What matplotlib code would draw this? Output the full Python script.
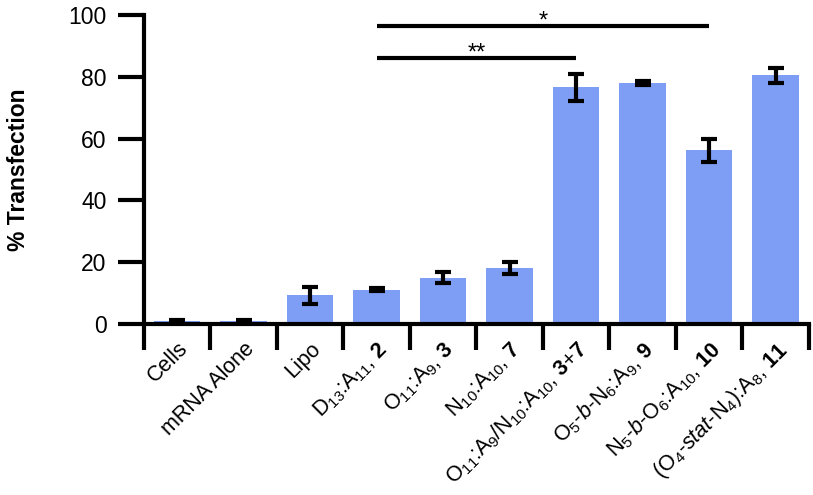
import matplotlib
matplotlib.use("Agg")
import matplotlib.pyplot as plt
import numpy as np

plt.rcParams['font.family'] = ['Liberation Sans', 'DejaVu Sans']
plt.rcParams['mathtext.fontset'] = 'custom'
plt.rcParams['mathtext.rm'] = 'Liberation Sans'
plt.rcParams['mathtext.it'] = 'Liberation Sans:italic'
plt.rcParams['mathtext.bf'] = 'Liberation Sans:bold'

# data
labels = [
    'Cells',
    'mRNA Alone',
    'Lipo',
    r'D$_{13}$:A$_{11}$, $\mathbf{2}$',
    r'O$_{11}$:A$_{9}$, $\mathbf{3}$',
    r'N$_{10}$:A$_{10}$, $\mathbf{7}$',
    r'O$_{11}$:A$_{9}$/N$_{10}$:A$_{10}$, $\mathbf{3}$+$\mathbf{7}$',
    r'O$_{5}$-$\mathit{b}$-N$_{6}$:A$_{9}$, $\mathbf{9}$',
    r'N$_{5}$-$\mathit{b}$-O$_{6}$:A$_{10}$, $\mathbf{10}$',
    r'(O$_{4}$-$\mathit{stat}$-N$_{4}$):A$_{8}$, $\mathbf{11}$',
]
values = [1.0, 1.0, 9.3, 11.2, 15.0, 18.2, 76.6, 78.0, 56.2, 80.4]
errors = [0.3, 0.3, 2.7, 0.6, 1.8, 2.0, 4.3, 0.7, 3.7, 2.3]

# significance brackets: (from, to, height, label)
sig_pairs = [(3, 8, 96.3, '*'), (3, 6, 86.0, '**')]

bar_color = '#7E9EF6'

fig = plt.figure(figsize=(8.13, 4.95), dpi=100)
ax = fig.add_axes([0.177, 0.345, 0.818, 0.625])

x = np.arange(len(values))
ax.bar(x, values, width=0.7, color=bar_color, zorder=1)
ax.errorbar(x, values, yerr=errors, fmt='none', ecolor='black',
            elinewidth=3, capsize=6, capthick=3, zorder=2)

for a, b, h, txt in sig_pairs:
    ax.plot([x[a], x[b]], [h, h], color='black', lw=3,
            solid_capstyle='butt', clip_on=False)
    ax.text((x[a] + x[b]) / 2, h - 2.0, txt, ha='center', va='bottom',
            fontsize=17, clip_on=False)

ax.set_xlim(-0.5, len(values) - 0.5)
ax.set_ylim(0, 100)
ax.set_yticks([0, 20, 40, 60, 80, 100])
ax.tick_params(axis='y', labelsize=16.5, length=19, width=3, direction='out',
               pad=8)

ax.set_xticks(x)
ax.set_xticklabels(labels, rotation=45, ha='right', rotation_mode='anchor',
                   fontsize=15.5)
ax.tick_params(axis='x', which='major', length=0, pad=10)
ax.set_xticks(np.arange(len(values) + 1) - 0.5, minor=True)
ax.tick_params(axis='x', which='minor', length=19, width=3, direction='out')

for side in ['top', 'right']:
    ax.spines[side].set_visible(False)
for side in ['left', 'bottom']:
    ax.spines[side].set_linewidth(3)

ax.set_ylabel('% Transfection', fontsize=16.5, fontweight='bold')
ax.yaxis.set_label_coords(-0.172, 0.5)

fig.savefig('out.png', dpi=100)
